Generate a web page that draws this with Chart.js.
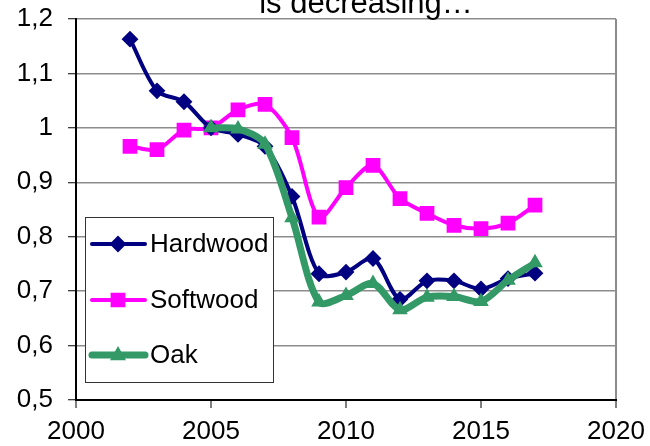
<!DOCTYPE html>
<html>
<head>
<meta charset="utf-8">
<script src="https://cdn.jsdelivr.net/npm/chart.js@4/dist/chart.umd.min.js"></script>
<style>
    html, body { margin: 0; padding: 0; background: #fff; }
    #wrap { width: 650px; height: 446px; }
</style>
</head>
<body>
<div id="wrap"><canvas id="chart" width="650" height="446"></canvas></div>
<script>
// ============= Data =============
const years = [2002, 2003, 2004, 2005, 2006, 2007, 2008, 2009, 2010, 2011, 2012, 2013, 2014, 2015, 2016, 2017];
const hardwood = [1.163, 1.068, 1.048, 1.0, 0.988, 0.966, 0.874, 0.732, 0.735, 0.760, 0.685, 0.719, 0.719, 0.704, 0.723, 0.733];
const softwood = [0.966, 0.960, 0.996, 1.0, 1.033, 1.043, 0.982, 0.836, 0.890, 0.931, 0.870, 0.843, 0.821, 0.815, 0.825, 0.858];
const oak = [null, null, null, 1.0, 0.998, 0.970, 0.835, 0.680, 0.692, 0.714, 0.666, 0.689, 0.690, 0.681, 0.720, 0.752];
const xTicks = [2000, 2005, 2010, 2015, 2020];
const yTicks = [0.5, 0.6, 0.7, 0.8, 0.9, 1.0, 1.1, 1.2];
const titleText = 'is decreasing…';

const FONT = '"Liberation Sans", Arial, sans-serif';

const toPoints = vals => years.map((y, i) => ({ x: y, y: vals[i] })).filter(p => p.y !== null);

const series = [
    { label: 'Hardwood', data: hardwood, color: '#000080', width: 4, style: 'rectRot', radius: 7, order: 1 },
    { label: 'Softwood', data: softwood, color: '#FF00FF', width: 4, style: 'rect', radius: 9, order: 2 },
    { label: 'Oak', data: oak, color: '#339966', width: 7, style: 'triangle', radius: 7, order: 0 }
];

// Title, partly cut at the top of the picture
const titlePlugin = {
    id: 'cutTitle',
    afterDraw(chart) {
        const ctx = chart.ctx;
        ctx.save();
        ctx.font = '31px ' + FONT;
        ctx.fillStyle = '#000';
        ctx.textAlign = 'center';
        ctx.textBaseline = 'alphabetic';
        ctx.fillText(titleText, 366, 13);
        ctx.restore();
    }
};

function drawMarker(ctx, style, x, y, r) {
    ctx.beginPath();
    if (style === 'rectRot') {
        ctx.moveTo(x, y - r); ctx.lineTo(x + r, y); ctx.lineTo(x, y + r); ctx.lineTo(x - r, y);
    } else if (style === 'rect') {
        const s = r * Math.SQRT1_2;
        ctx.rect(x - s, y - s, 2 * s, 2 * s);
    } else {
        ctx.moveTo(x, y - r); ctx.lineTo(x + r * 0.9, y + r * 0.6); ctx.lineTo(x - r * 0.9, y + r * 0.6);
    }
    ctx.closePath();
    ctx.fill();
    ctx.stroke();
}

// Legend boxed inside the plot area
const legendPlugin = {
    id: 'boxLegend',
    afterDatasetsDraw(chart) {
        const ctx = chart.ctx;
        const box = { x: 85, y: 217, w: 188, h: 165 };
        ctx.save();
        ctx.fillStyle = '#fff';
        ctx.strokeStyle = '#333';
        ctx.lineWidth = 1;
        ctx.fillRect(box.x, box.y, box.w, box.h);
        ctx.strokeRect(box.x + 0.5, box.y + 0.5, box.w, box.h);
        const rows = [244, 300, 355];
        series.forEach((s, i) => {
            const y = rows[i];
            ctx.strokeStyle = s.color;
            ctx.fillStyle = s.color;
            ctx.lineWidth = s.width;
            ctx.lineCap = 'round';
            ctx.beginPath();
            ctx.moveTo(92, y);
            ctx.lineTo(145, y);
            ctx.stroke();
            ctx.lineWidth = 2;
            drawMarker(ctx, s.style, 118, y, s.radius);
            ctx.fillStyle = '#000';
            ctx.font = '26px ' + FONT;
            ctx.textAlign = 'left';
            ctx.textBaseline = 'middle';
            ctx.fillText(s.label, 150, y + 1);
        });
        ctx.restore();
    }
};

const fmt = v => Number(v.toFixed(1)).toString().replace('.', ',');

new Chart(document.getElementById('chart'), {
    type: 'line',
    data: {
        datasets: series.map(s => ({
            label: s.label,
            data: toPoints(s.data),
            borderColor: s.color,
            backgroundColor: s.color,
            borderWidth: s.width,
            pointStyle: s.style,
            pointRadius: s.radius,
            pointBorderWidth: 2,
            pointBackgroundColor: s.color,
            pointBorderColor: s.color,
            tension: 0.3,
            order: s.order,
            fill: false
        }))
    },
    options: {
        responsive: false,
        animation: false,
        events: [],
        layout: { padding: { left: 0, right: 34, top: 19, bottom: 0 } },
        plugins: { legend: { display: false }, tooltip: { enabled: false }, title: { display: false } },
        scales: {
            x: {
                type: 'linear',
                min: 2000,
                max: 2020,
                afterFit: s => { s.height = 46; s.paddingLeft = 0; s.paddingRight = 0; },
                afterBuildTicks: s => { s.ticks = xTicks.map(v => ({ value: v })); },
                ticks: { color: '#000', font: { family: FONT, size: 26 }, padding: 8, maxRotation: 0, callback: v => String(v) },
                grid: {
                    color: c => (c.tick && c.tick.value === 2020 ? '#8c8c8c' : 'rgba(0,0,0,0)'),
                    lineWidth: 2,
                    tickColor: '#000',
                    tickLength: 8,
                    tickWidth: 1
                },
                border: { color: '#000', width: 2 }
            },
            y: {
                min: 0.5,
                max: 1.2,
                afterFit: s => { s.width = 76; s.paddingTop = 0; s.paddingBottom = 0; },
                afterBuildTicks: s => { s.ticks = yTicks.map(v => ({ value: v })); },
                ticks: { color: '#000', font: { family: FONT, size: 26 }, padding: 15, callback: v => fmt(v) },
                grid: {
                    color: '#8c8c8c',
                    lineWidth: 1.5,
                    tickColor: '#000',
                    tickLength: 8,
                    tickWidth: 1
                },
                border: { color: '#000', width: 2 }
            }
        }
    },
    plugins: [titlePlugin, legendPlugin]
});
</script>
</body>
</html>
